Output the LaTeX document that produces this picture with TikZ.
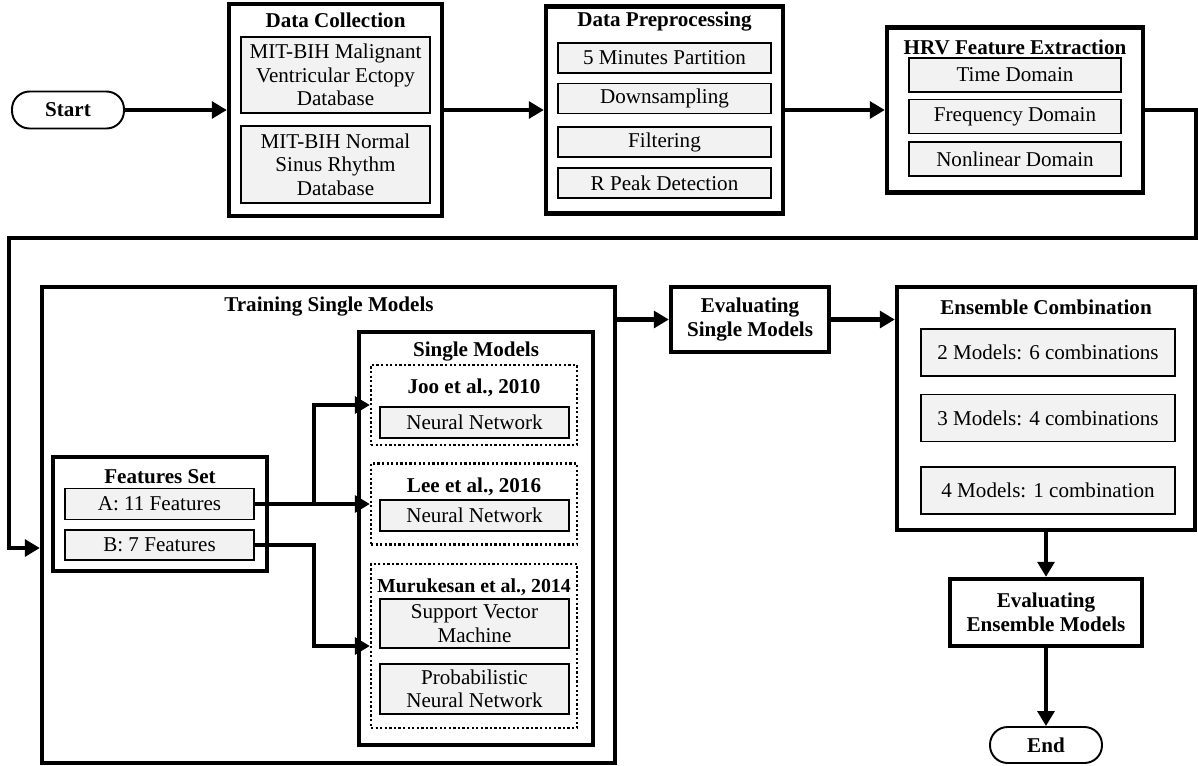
\documentclass[tikz,border=0pt]{standalone}
\usepackage{fontspec}
\setmainfont{Liberation Serif}
\usetikzlibrary{arrows.meta}
\AtBeginDocument{\fontsize{12}{13.4}\selectfont}

\definecolor{itemfill}{HTML}{F2F2F2}
\tikzstyle{stage} = [rectangle, draw=black, line width=2.5pt]
\tikzstyle{item} = [rectangle, draw=black, line width=1.1pt, fill=itemfill, align=center, inner sep=0pt]
\tikzstyle{model} = [rectangle, draw=black, line width=1.3pt, dash pattern=on 1.3pt off 1.3pt]
\tikzstyle{startstop} = [rectangle, rounded corners=10pt, draw=black, line width=1.1pt, font=\bfseries]
\tikzstyle{heading} = [font=\bfseries, align=center]
\tikzstyle{arrow} = [line width=2.5pt, ->, >={Triangle[length=8.5pt,width=9.5pt]}]

\begin{document}
\begin{tikzpicture}[x=0.02cm, y=-0.02cm]
    \useasboundingbox (0,0) rectangle (1198,765);

    % Top row
    \node[startstop, minimum width=2.24cm, minimum height=0.74cm] (start) at (68,110) {Start};

    \node[stage, minimum width=4.26cm, minimum height=4.24cm] (collect) at (335.5,110) {};
    \node[heading] (collectTitle) at (335.5,20) {Data Collection};
    \node[item, minimum width=3.78cm, minimum height=1.52cm] (mve) at (335.5,75) {MIT-BIH Malignant\\Ventricular Ectopy\\Database};
    \node[item, minimum width=3.78cm, minimum height=1.54cm] (nsr) at (335.5,164.5) {MIT-BIH Normal\\Sinus Rhythm\\Database};

    \node[stage, minimum width=4.74cm, minimum height=4.14cm] (prep) at (664.5,110) {};
    \node[heading] (prepTitle) at (664.5,22) {Data Preprocessing};
    \node[item, minimum width=4.26cm, minimum height=0.6cm] (partition) at (664.5,58) {5 Minutes Partition};
    \node[item, minimum width=4.26cm, minimum height=0.6cm] (downsample) at (664.5,98.5) {Downsampling};
    \node[item, minimum width=4.26cm, minimum height=0.6cm] (filtering) at (664.5,142) {Filtering};
    \node[item, minimum width=4.26cm, minimum height=0.6cm] (rpeak) at (664.5,183) {R Peak Detection};

    \node[stage, minimum width=5.12cm, minimum height=3.3cm] (hrv) at (1015,110) {};
    \node[heading] (hrvTitle) at (1015,47) {HRV Feature Extraction};
    \node[item, minimum width=4.24cm, minimum height=0.68cm] (timeDom) at (1015,75) {Time Domain};
    \node[item, minimum width=4.24cm, minimum height=0.68cm] (freqDom) at (1015,116.5) {Frequency Domain};
    \node[item, minimum width=4.24cm, minimum height=0.68cm] (nonlinDom) at (1015,159) {Nonlinear Domain};

    \coordinate (loopR) at (1196,238);
    \coordinate (loopL) at (9,238);

    % Training
    \node[stage, minimum width=11.46cm, minimum height=9.52cm] (train) at (328.5,525) {};
    \node[heading] (trainTitle) at (329,307) {Training Single Models};

    \node[stage, minimum width=4.28cm, minimum height=2.28cm] (features) at (160,514) {};
    \node[heading] (featuresTitle) at (160,477) {Features Set};
    \node[item, minimum width=3.78cm, minimum height=0.62cm] (featA) at (159.5,504) {A: 11 Features};
    \node[item, minimum width=3.78cm, minimum height=0.6cm] (featB) at (159.5,545) {B: 7 Features};

    \node[stage, minimum width=4.68cm, minimum height=8.26cm] (single) at (476,538.5) {};
    \node[heading] (singleTitle) at (476,352) {Single Models};

    \node[model, minimum width=4.12cm, minimum height=1.6cm] (joo) at (474,405) {};
    \node[heading] (jooTitle) at (474,388) {Joo et al., 2010};
    \node[item, minimum width=3.78cm, minimum height=0.62cm] (jooNN) at (474.5,422.5) {Neural Network};

    \node[model, minimum width=4.12cm, minimum height=1.62cm] (lee) at (474,504) {};
    \node[heading] (leeTitle) at (474,487) {Lee et al., 2016};
    \node[item, minimum width=3.78cm, minimum height=0.62cm] (leeNN) at (474.5,515.5) {Neural Network};

    \node[model, minimum width=4.12cm, minimum height=3.28cm] (murk) at (474,646) {};
    \node[heading, font=\bfseries\fontsize{11.3}{13}\selectfont] (murkTitle) at (474,587) {Murukesan et al., 2014};
    \node[item, minimum width=3.78cm, minimum height=0.98cm] (svm) at (474.5,623.5) {Support Vector\\Machine};
    \node[item, minimum width=3.78cm, minimum height=1.0cm] (pnn) at (474.5,689) {Probabilistic\\Neural Network};

    % Evaluation and ensemble
    \node[stage, heading, minimum width=3.16cm, minimum height=1.3cm] (evalSingle) at (750,319.5) {Evaluating\\Single Models};

    \node[stage, minimum width=5.96cm, minimum height=4.86cm] (ensemble) at (1046,408.5) {};
    \node[heading] (ensembleTitle) at (1046,307) {Ensemble Combination};
    \node[item, minimum width=5.08cm, minimum height=0.94cm] (combo2) at (1048,352.5) {2 Models: 6 combinations};
    \node[item, minimum width=5.08cm, minimum height=0.94cm] (combo3) at (1048,418) {3 Models: 4 combinations};
    \node[item, minimum width=5.08cm, minimum height=0.94cm] (combo4) at (1048,490.5) {4 Models: 1 combination};

    \node[stage, heading, minimum width=3.84cm, minimum height=1.34cm] (evalEns) at (1046,612.5) {Evaluating\\Ensemble Models};
    \node[startstop, minimum width=2.24cm, minimum height=0.72cm] (end) at (1046,745) {End};

    % Arrows
    \path
    (start) edge[arrow] (collect)
    (collect) edge[arrow] (prep)
    (prep) edge[arrow] (hrv)
    (featA) edge[arrow] (lee)
    (ensemble) edge[arrow] (evalEns)
    (evalEns) edge[arrow] (end);

    \draw[arrow] (hrv.east) -| (loopR) -- (loopL) |- ([yshift=-0.46cm]train.west);
    \draw[arrow] (featA.east) -- ++(59,0) |- (joo.west);
    \draw[arrow] (featB.east) -- ++(59,0) |- (murk.west);
    \draw[arrow] (evalSingle.west -| train.east) -- (evalSingle.west);
    \draw[arrow] (evalSingle.east) -- (evalSingle.east -| ensemble.west);

\end{tikzpicture}
\end{document}
